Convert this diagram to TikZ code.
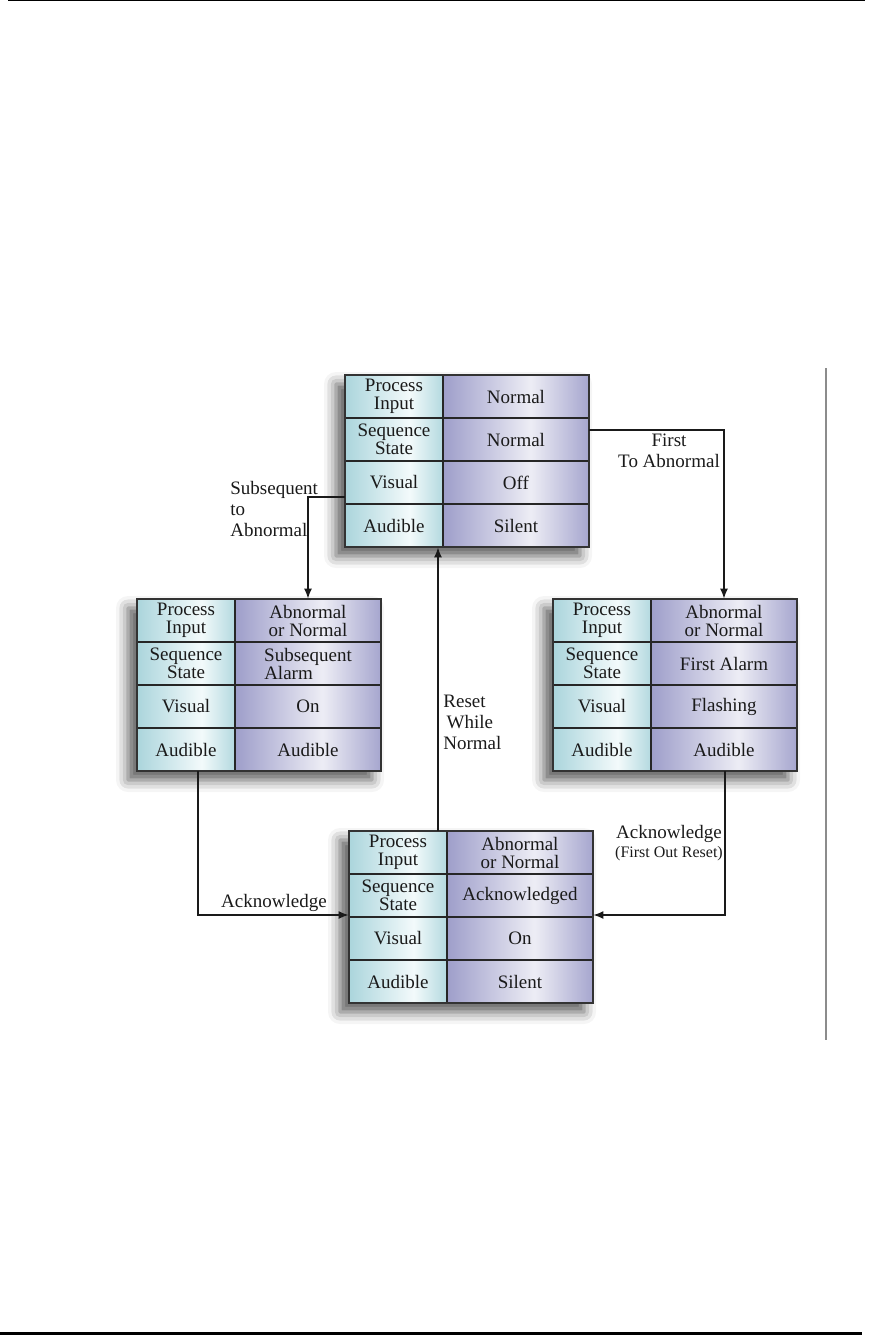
\documentclass[tikz,border=0pt]{standalone}
\usepackage{fontspec}
\setmainfont{Liberation Serif}
\usetikzlibrary{arrows.meta,shadows.blur,calc}
\definecolor{cyanE}{HTML}{ABD5DC}
\definecolor{cyanM}{HTML}{F3FAFB}
\definecolor{lavE}{HTML}{9E9ECA}
\definecolor{lavM}{HTML}{EDEDF5}
\definecolor{ink}{HTML}{1A1A1A}
\pgfdeclarehorizontalshading{cyanshade}{100bp}{color(0bp)=(cyanE); color(25bp)=(cyanE); color(58bp)=(cyanM); color(75bp)=(cyanE!90); color(100bp)=(cyanE!90)}
\pgfdeclarehorizontalshading{lavshade}{100bp}{color(0bp)=(lavE); color(25bp)=(lavE); color(55bp)=(lavM); color(75bp)=(lavE!92); color(100bp)=(lavE!92)}
\tikzset{
  cell/.style={font=\fontsize{9.5}{9}\selectfont, align=center, text=ink, inner sep=0pt},
  lbl/.style={font=\fontsize{9.5}{10.5}\selectfont, text=ink, inner sep=0pt},
  boxnode/.style={draw=none, minimum width=122pt, minimum height=86pt, inner sep=0pt},
  rowline/.style={draw=black!85, line width=0.6pt},
  frame/.style={draw=black!80, line width=0.9pt},
  arr/.style={draw=ink, line width=0.75pt, -{Latex[length=5pt,width=4pt]}},
  pics/statebox/.style n args={4}{code={
    \path[fill=white, blur shadow={shadow xshift=-4.5pt, shadow yshift=-4.5pt, shadow blur radius=6pt, shadow opacity=65}] (0,0) rectangle (244,172);
    \shade[shading=cyanshade] (0,0) rectangle (98,172);
    \shade[shading=lavshade] (98,0) rectangle (244,172);
    \draw[rowline] (0,43) -- (244,43) (0,86) -- (244,86) (0,129) -- (244,129) (98,0) -- (98,172);
    \draw[frame] (0,0) rectangle (244,172);
    \node[boxnode] (-box) at (122,86) {};
    \node[cell] (-l1) at (49,21.5) {Process\\Input};
    \node[cell] (-l2) at (49,64.5) {Sequence\\State};
    \node[cell] (-l3) at (49,107.5) {Visual};
    \node[cell] (-l4) at (49,150.5) {Audible};
    \node[cell] (-r1) at (171,21.5) {#1};
    \node[cell] (-r2) at (171,64.5) {#2};
    \node[cell] (-r3) at (171,107.5) {#3};
    \node[cell] (-r4) at (171,150.5) {#4};
  }}
}
\begin{document}
\begin{tikzpicture}[x=0.5pt,y=-0.5pt]
\useasboundingbox (0,0) rectangle (870,1335);
% page rules
\draw[black, line width=0.6pt] (8,0.6) -- (865,0.6);
\draw[black, line width=1.1pt] (0,1333.5) -- (862,1333.5);
\draw[black!45, line width=0.9pt] (826,368) -- (826,1040);

% state boxes
\pic (top) at (345,375) {statebox={Normal}{Normal}{Off}{Silent}};
\pic (sub) at (137,599) {statebox={Abnormal\\or Normal}{Subsequent\\Alarm\hspace*{2.05em}}{On}{Audible}};
\pic (fst) at (553,599) {statebox={Abnormal\\or Normal}{First Alarm}{Flashing}{Audible}};
\pic (ack) at (349,831) {statebox={Abnormal\\or Normal}{Acknowledged}{On}{Silent}};

% bend coordinates
\coordinate (c1) at (724,430);
\coordinate (c2) at (308,497);
\coordinate (c3) at (198,915);
\coordinate (c4) at (725,915);
\coordinate (c5) at (438,700);

% connectors
\draw[arr] (top-box.east |- c1) -| (fst-box.north -| c1);
\draw[arr] (top-box.west |- c2) -| (sub-box.north -| c2);
\draw[arr] (sub-box.south -| c3) |- (ack-box.west |- c3);
\draw[arr] (fst-box.south -| c4) |- (ack-box.east |- c4);
\draw[arr] (ack-box.north -| c5) -- (top-box.south -| c5);

% labels
\node[lbl, align=center] (lfirst) at (669,451) {First\\ To Abnormal};
\node[lbl, align=left, anchor=west] (lsub) at (230,509) {Subsequent\\to\\Abnormal};
\node[lbl] (lack1) at (274,903) {Acknowledge};
\node[lbl, align=center] (lack2) at (669,843) {Acknowledge\\[-1pt]{\fontsize{8}{8}\selectfont(First Out Reset)}};
\node[lbl, align=left, anchor=west] (lreset) at (443,722) {Reset\\\,While\\Normal};
\end{tikzpicture}
\end{document}
